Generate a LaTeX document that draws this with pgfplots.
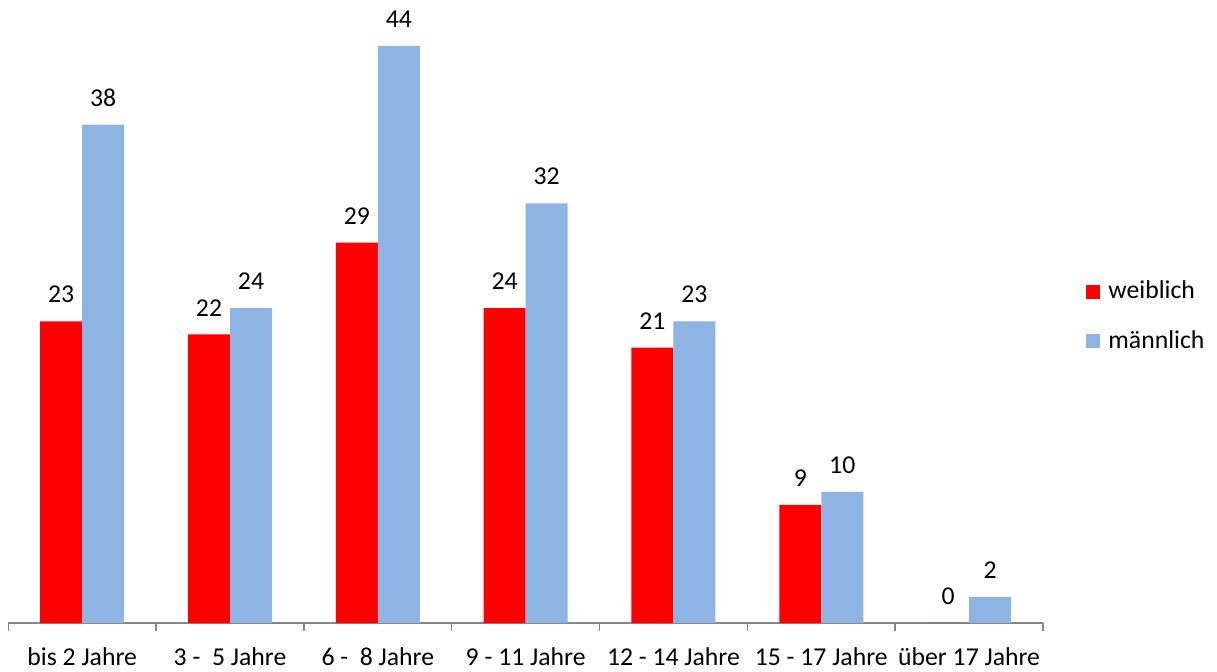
\documentclass[border=0pt]{standalone}
\usepackage{pgfplots}
\pgfplotsset{compat=1.18}
\usepackage{fontspec}
\setmainfont{Carlito}
\definecolor{fem}{HTML}{FF0000}
\definecolor{mal}{HTML}{8EB4E3}
\definecolor{axgray}{HTML}{868686}
\begin{document}
\fontsize{12.85pt}{15.4pt}\selectfont
\begin{tikzpicture}
\useasboundingbox (0,0) rectangle (608.5pt,335.5pt);
\begin{axis}[
  at={(4.15pt,24pt)}, anchor=south west,
  scale only axis, width=517.35pt, height=311.5pt,
  xmin=-0.5, xmax=6.5, ymin=0, ymax=47.5,
  ybar=0pt, bar width=21pt,
  hide y axis,
  axis x line*=bottom,
  x axis line style={draw=axgray, line width=0.75pt},
  xtick={0,...,6},
  xticklabels={bis 2 Jahre, {3 -\ \ 5 Jahre}, {6 -\ \ 8 Jahre}, 9 - 11 Jahre, 12 - 14 Jahre, 15 - 17 Jahre, über 17 Jahre},
  major tick length=0pt,
  minor xtick={-0.5,0.5,...,6.5},
  minor tick length=4pt,
  tick align=outside,
  minor tick style={draw=axgray, line width=0.75pt},
  major tick style={draw=none},
  xticklabel style={yshift=-7.9pt, text=black},
  /pgf/number format/assume math mode=true,
  nodes near coords,
  nodes near coords style={inner sep=0pt, yshift=9pt, anchor=south, text=black},
  legend style={at={(1.0416,0.492)}, anchor=west, draw=none, fill=none, inner sep=0pt, row sep=10pt, cells={anchor=west}},
  legend image code/.code={\fill[#1] (0pt,-3.5pt) rectangle (7pt,3.5pt);},
  legend cell align=left,
]
\addplot[fill=fem, draw=none] coordinates {(0,23) (1,22) (2,29) (3,24) (4,21) (5,9) (6,0)};
\addplot[fill=mal, draw=none] coordinates {(0,38) (1,24) (2,44) (3,32) (4,23) (5,10) (6,2)};
\legend{\hspace{2pt}weiblich, \hspace{2pt}männlich}
\end{axis}
\end{tikzpicture}
\end{document}
